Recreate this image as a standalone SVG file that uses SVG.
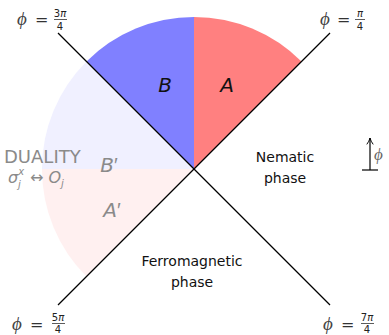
<svg xmlns="http://www.w3.org/2000/svg" width="389" height="335" viewBox="0 0 389 335">
<style>
text{font-family:"DejaVu Sans","Liberation Sans",sans-serif;fill:#111}
.it{font-style:italic}
.g{fill:#8a8a8a}
.lbl{font-size:14px}
.fr{font-size:10px;text-anchor:middle;fill:#222}
.phi{font-family:"Liberation Serif","DejaVu Serif",serif;font-style:italic;font-size:19px;fill:#444}
.eq{font-size:16px;fill:#333}
.ln{stroke:#000;stroke-width:1.3;fill:none}
</style>
<defs>
<marker id="ah" viewBox="0 0 10 10" refX="9" refY="5" markerWidth="8" markerHeight="8" orient="auto" markerUnits="userSpaceOnUse">
<path d="M1,1 Q5,4 9,5 Q5,6 1,9" fill="none" stroke="#000" stroke-width="1.2"/>
</marker>
</defs>
<rect width="389" height="335" fill="#fff"/>
<g id="sectors">
<path id="Bp" d="M194,169 L86.5,61.5 A152,152 0 0 0 42,169 Z" fill="#f0f0ff"/>
<path id="Ap" d="M194,169 L42,169 A152,152 0 0 0 86.5,276.5 Z" fill="#fff0f0"/>
<path id="B" d="M194,169 L194,17 A152,152 0 0 0 86.5,61.5 Z" fill="#8080ff"/>
<path id="A" d="M194,169 L301.5,61.5 A152,152 0 0 0 194,17 Z" fill="#ff8080"/>
</g>
<g id="connectors">
<line class="ln" x1="58" y1="33" x2="330" y2="305"/>
<line class="ln" x1="330" y1="33" x2="58" y2="305"/>
</g>
<g id="labels-sectors">
<text class="it" x="165" y="92" font-size="20" text-anchor="middle">B</text>
<text class="it" x="227" y="92" font-size="20" text-anchor="middle">A</text>
<text class="it g" x="109" y="172" font-size="20" text-anchor="middle">B<tspan font-style="normal" font-family="Liberation Sans">′</tspan></text>
<text class="it g" x="112" y="217" font-size="20" text-anchor="middle">A<tspan font-style="normal" font-family="Liberation Sans">′</tspan></text>
</g>
<g id="duality">
<text class="g" x="4" y="163" font-size="18">DUALITY</text>
<text class="g" x="8" y="183" font-size="16"><tspan class="it">σ</tspan><tspan class="it" font-size="10" dy="-8">x</tspan><tspan class="it" font-size="10" dx="-6" dy="13">j</tspan><tspan dx="4" dy="-5"> ↔ </tspan><tspan class="it">O</tspan><tspan class="it" font-size="10" dy="4">j</tspan></text>
</g>
<g id="nematic">
<text class="lbl" x="285" y="162" text-anchor="middle">Nematic</text>
<text class="lbl" x="285" y="183" text-anchor="middle">phase</text>
</g>
<g id="ferro">
<text class="lbl" x="192" y="266" text-anchor="middle">Ferromagnetic</text>
<text class="lbl" x="192" y="287" text-anchor="middle">phase</text>
</g>
<g id="phi-axis">
<line x1="370" y1="170" x2="370" y2="138" stroke="#000" stroke-width="1.2" marker-end="url(#ah)"/>
<line x1="362" y1="170" x2="378" y2="170" stroke="#000" stroke-width="1.2"/>
<text class="phi" x="374" y="160" style="font-size:17px;fill:#666">ϕ</text>
</g>
<g id="angle-tl">
<text class="phi" x="17" y="25">ϕ</text>
<text class="eq" x="35" y="25">=</text>
<text class="fr" x="60" y="17">3<tspan class="it">π</tspan></text>
<line x1="54" y1="19.5" x2="67" y2="19.5" stroke="#333" stroke-width="0.8"/>
<text class="fr" x="60" y="30">4</text>
</g>
<g id="angle-tr">
<text class="phi" x="320" y="25">ϕ</text>
<text class="eq" x="337" y="25">=</text>
<text class="fr it" x="360" y="17">π</text>
<line x1="355" y1="19.5" x2="365" y2="19.5" stroke="#333" stroke-width="0.8"/>
<text class="fr" x="360" y="30">4</text>
</g>
<g id="angle-bl">
<text class="phi" x="12" y="330">ϕ</text>
<text class="eq" x="30" y="330">=</text>
<text class="fr" x="58" y="321">5<tspan class="it">π</tspan></text>
<line x1="52" y1="323.5" x2="65" y2="323.5" stroke="#333" stroke-width="0.8"/>
<text class="fr" x="58" y="333">4</text>
</g>
<g id="angle-br">
<text class="phi" x="323" y="330">ϕ</text>
<text class="eq" x="341" y="330">=</text>
<text class="fr" x="367" y="321">7<tspan class="it">π</tspan></text>
<line x1="361" y1="323.5" x2="374" y2="323.5" stroke="#333" stroke-width="0.8"/>
<text class="fr" x="367" y="333">4</text>
</g>
</svg>
